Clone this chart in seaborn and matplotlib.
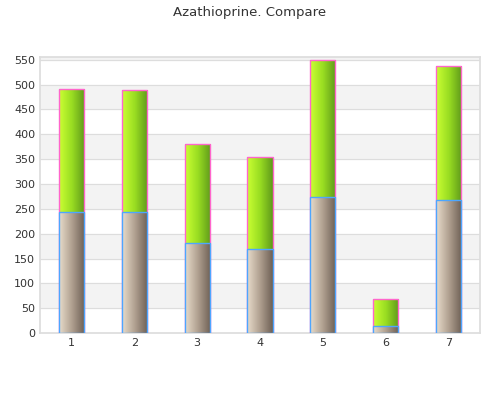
import matplotlib
matplotlib.use("Agg")
import matplotlib.pyplot as plt
import seaborn as sns
import numpy as np
import pandas as pd
from matplotlib.colors import LinearSegmentedColormap

categories = ["1", "2", "3", "4", "5", "6", "7"]
bottom_vals = [243, 243, 182, 170, 274, 15, 268]
top_vals = [249, 247, 199, 185, 275, 53, 270]
yticks = list(range(0, 551, 50))

sns.set_theme(style="white")
plt.rcParams['font.family'] = ['DejaVu Sans']
fig = plt.figure(figsize=(5, 4), dpi=100)
ax = fig.add_axes([0.08, 0.167, 0.88, 0.69])

totals = [b + t for b, t in zip(bottom_vals, top_vals)]
df_tot = pd.DataFrame({"cat": categories, "v": totals})
df_bot = pd.DataFrame({"cat": categories, "v": bottom_vals})
sns.barplot(data=df_tot, x="cat", y="v", ax=ax, width=0.4, color="#9ed23a",
            edgecolor="#ff66cc", linewidth=1, zorder=3)
n_top = len(ax.patches)
sns.barplot(data=df_bot, x="cat", y="v", ax=ax, width=0.4, color="#a09080",
            edgecolor="#4da6ff", linewidth=1, zorder=4)
bars = list(ax.patches)

green = LinearSegmentedColormap.from_list("g", ["#ccff33", "#99dd22", "#5f9a1a"])
brown = LinearSegmentedColormap.from_list("b", ["#e8dccb", "#b0a090", "#6e6055"])
grad = np.linspace(0, 1, 100).reshape(1, -1)
for k, p in enumerate(bars):
    x0, y0 = p.get_x(), p.get_y()
    w, h = p.get_width(), p.get_height()
    cmap = green if k < n_top else brown
    z = 3 if k < n_top else 4
    im = ax.imshow(grad, cmap=cmap, aspect="auto", extent=[x0, x0 + w, y0, y0 + h],
                   zorder=z)
    im.set_clip_path(p)
    p.set_facecolor("none")
    p.set_zorder(z + 0.5)

for i in range(0, 550, 100):
    ax.axhspan(i + 50, i + 100, color="#f3f3f3", zorder=0)
for y in yticks:
    ax.axhline(y, color="#dddddd", lw=0.8, zorder=1)

ax.set_xlim(-0.5, 6.5)
ax.set_ylim(0, 555)
ax.set_yticks(yticks)
ax.set_xlabel("")
ax.set_ylabel("")
ax.tick_params(labelsize=8, colors="#333333", length=0)
for s in ax.spines.values():
    s.set_color("#dddddd")
fig.suptitle("Azathioprine. Compare", y=0.985, fontsize=9.5, color="#333333")
fig.savefig("out.png")
